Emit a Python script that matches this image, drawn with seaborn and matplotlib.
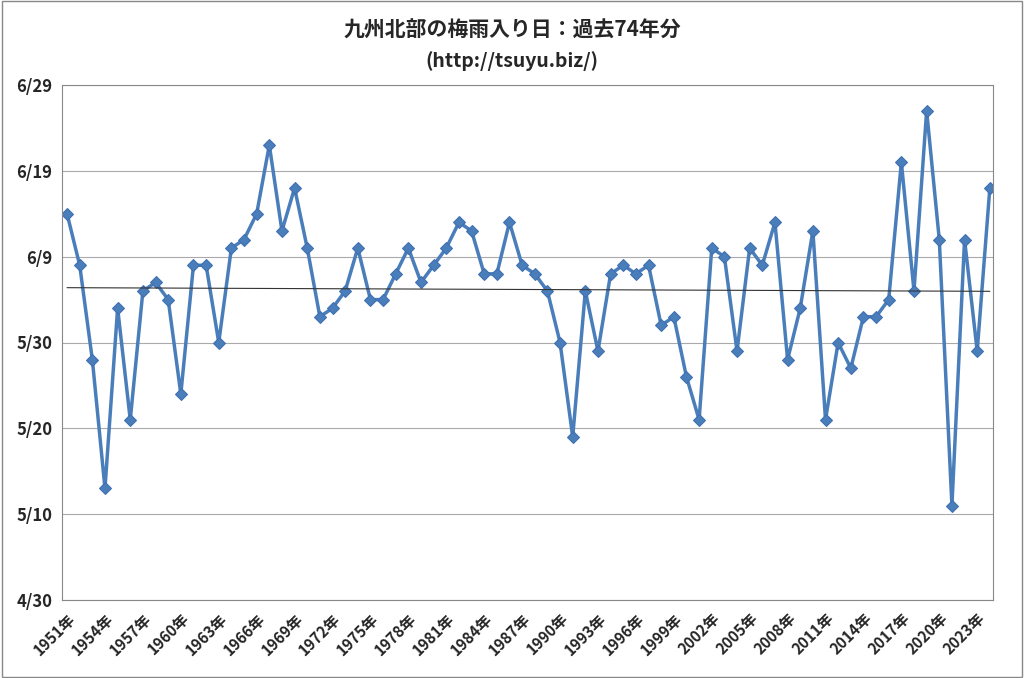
import numpy as np
import pandas as pd
import seaborn as sns
import matplotlib.pyplot as plt
import matplotlib as mpl

years = list(range(1951, 2025))
# days after April 30
days = [45, 39, 28, 13, 34, 21, 36, 37, 35, 24,
        39, 39, 30, 41, 42, 45, 53, 43, 48, 41,
        33, 34, 36, 41, 35, 35, 38, 41, 37, 39,
        41, 44, 43, 38, 38, 44, 39, 38, 36, 30,
        19, 36, 29, 38, 39, 38, 39, 32, 33, 26,
        21, 41, 40, 29, 41, 39, 44, 28, 34, 43,
        21, 30, 27, 33, 33, 35, 51, 36, 57, 42,
        11, 42, 29, 48]
ytick_vals = [0, 10, 20, 30, 40, 50, 60]
ytick_labels = ['4/30', '5/10', '5/20', '5/30', '6/9', '6/19', '6/29']

df = pd.DataFrame({'year': years, 'day': days})

sns.set_style('white')
mpl.rcParams['font.family'] = 'Noto Sans CJK JP'

fig = plt.figure(figsize=(10.24, 6.78), dpi=100)
ax = fig.add_axes([62/1024, 78/678, 931/1024, 515/678])

sns.lineplot(x='year', y='day', data=df, ax=ax, color='#4a7ebb', lw=2.5,
             marker='D', markersize=6, markeredgecolor='#3f6fb0')
k, b = np.polyfit(df.year, df.day, 1)
xs = np.array([years[0], years[-1]])
ax.plot(xs, k * xs + b, color='#333333', lw=0.8)

ax.set_xlim(1950.6, 2024.25)
ax.set_ylim(0, 60)
ax.set_yticks(ytick_vals)
ax.set_yticklabels(ytick_labels, fontsize=12, fontweight='bold')
xt = years[::3]
ax.set_xticks(xt)
ax.set_xticklabels([f'{y}年' for y in xt], rotation=45, ha='right',
                   rotation_mode='anchor', fontsize=11, fontweight='bold')
ax.grid(axis='y', color='#aaaaaa', lw=0.8)
for s in ax.spines.values():
    s.set_color('#888888')
ax.tick_params(axis='x', length=4, color='#888888')
ax.set_xlabel('')
ax.set_ylabel('')
fig.text(0.5, 0.955, '九州北部の梅雨入り日：過去74年分', ha='center', va='center',
         fontsize=15, fontweight='bold')
fig.text(0.5, 0.91, '(http://tsuyu.biz/)', ha='center', va='center',
         fontsize=14, fontweight='bold')
fig.patches.append(mpl.patches.Rectangle((0.002, 0.002), 0.996, 0.996,
                   transform=fig.transFigure, fill=False, ec='#888888', lw=1))
fig.savefig('out.png', dpi=100)
